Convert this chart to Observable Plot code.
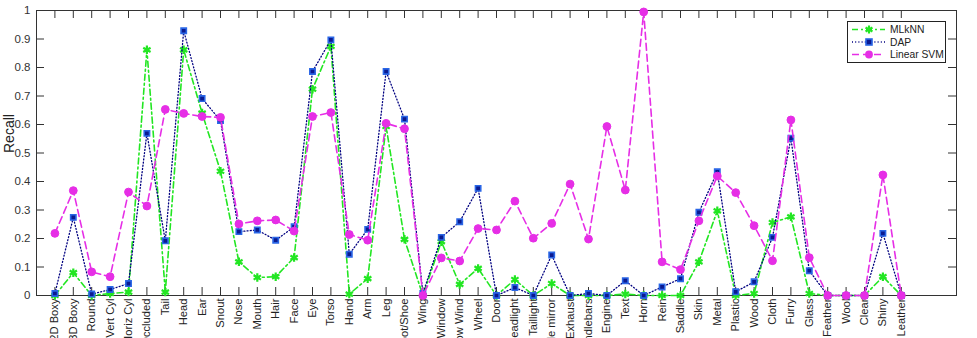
<!DOCTYPE html>
<html>
<head>
<meta charset="utf-8">
<script src="https://cdn.jsdelivr.net/npm/d3@7"></script>
<script src="https://cdn.jsdelivr.net/npm/@observablehq/plot@0.6"></script>
<style>
  html, body { margin: 0; padding: 0; background: #fff; overflow: hidden; }
  #wrap { position: relative; width: 977px; height: 338px; font-family: "Liberation Sans", Arial, sans-serif; }
  #legend { position: absolute; left: 847px; top: 21px; width: 97px; height: 40px; border: 1px solid #222; background: #fff; }
  #legend svg { display: block; }
</style>
</head>
<body>
<div id="wrap"></div>
<script>
const categories = ["2D Boxy","3D Boxy","Round","Vert Cyl","Horiz Cyl","Occluded","Tail","Head","Ear","Snout","Nose","Mouth","Hair","Face","Eye","Torso","Hand","Arm","Leg","Foot/Shoe","Wing","Window","Row Wind","Wheel","Door","Headlight","Taillight","Side mirror","Exhaust","Handlebars","Engine","Text","Horn","Rein","Saddle","Skin","Metal","Plastic","Wood","Cloth","Furry","Glass","Feather","Wool","Clear","Shiny","Leather"];
const mlknn = [0,0.08,0,0.007,0.012,0.862,0.012,0.862,0.64,0.436,0.118,0.063,0.066,0.133,0.724,0.874,0.005,0.059,0.593,0.197,0,0.189,0.039,0.095,0,0.056,0,0.042,0,0,0,0.005,0,0,0,0.118,0.297,0,0.007,0.256,0.276,0.007,0,0,0,0.066,0];
const dap = [0.007,0.274,0.005,0.021,0.042,0.569,0.192,0.929,0.691,0.614,0.224,0.230,0.194,0.241,0.786,0.897,0.145,0.232,0.786,0.619,0.007,0.204,0.259,0.376,0,0.028,0,0.142,0,0.007,0,0.052,0,0.030,0.059,0.292,0.434,0.013,0.048,0.204,0.552,0.087,0,0,0,0.218,0];
const svm = [0.218,0.368,0.083,0.066,0.363,0.314,0.653,0.639,0.628,0.625,0.251,0.262,0.265,0.226,0.628,0.642,0.214,0.194,0.604,0.585,0,0.132,0.121,0.235,0.230,0.331,0.201,0.253,0.391,0.198,0.593,0.370,0.995,0.118,0.091,0.262,0.419,0.361,0.245,0.122,0.616,0.133,0,0,0,0.423,0];
const yTicks = [0,0.1,0.2,0.3,0.4,0.5,0.6,0.7,0.8,0.9,1];
const seriesNames = ["MLkNN","DAP","Linear SVM"];
const yLabel = "Recall";

const W = 977, H = 338, mL = 36, mR = 21, mT = 10, mB = 43;
const innerW = W - mL - mR, innerH = H - mT - mB, tickLen = 8;
const xIdx = categories.map((_, i) => i + 1);
const rows = (vals) => vals.map((v, i) => ({x: i + 1, y: v}));
const C = {ml: "#22e622", dapLine: "#000080", dapFill: "#0a1a90", dapEdge: "#2a66e6", svm: "#e62ee6"};

const chart = Plot.plot({
  width: W, height: H,
  marginLeft: mL, marginRight: mR, marginTop: mT, marginBottom: mB,
  style: {fontFamily: "Liberation Sans, Arial, sans-serif", background: "#fff", color: "#222"},
  x: {type: "linear", domain: [0, 50]},
  y: {domain: [0, 1]},
  marks: [
    Plot.axisY({ticks: yTicks, tickSize: 0, tickPadding: 6, fontSize: 11.5, tickFormat: d => String(+d.toFixed(1)),
      label: null, fill: "#333"}),
    Plot.text([yLabel], {text: d => d, frameAnchor: "left", dx: -27, rotate: -90, fontSize: 14, fill: "#222"}),
    Plot.axisX({ticks: xIdx, tickSize: 0, tickPadding: 3, tickRotate: -90, fontSize: 11.2,
      tickFormat: d => categories[d - 1], label: null, fill: "#222"}),
    Plot.ruleY(yTicks, {y: d => d, insetRight: innerW - tickLen, stroke: "#333"}),
    Plot.ruleY(yTicks, {y: d => d, insetLeft: innerW - tickLen, stroke: "#333"}),
    Plot.ruleX(xIdx, {x: d => d, insetTop: innerH - tickLen, stroke: "#333"}),
    Plot.ruleX(xIdx, {x: d => d, insetBottom: innerH - tickLen, stroke: "#333"}),
    Plot.frame({stroke: "#333"}),
    Plot.line(rows(mlknn), {x: "x", y: "y", stroke: C.ml, strokeWidth: 1.6, strokeDasharray: "6,3,2,3"}),
    Plot.dot(rows(mlknn), {x: "x", y: "y", symbol: "asterisk", r: 4, stroke: C.ml, strokeWidth: 2.2}),
    Plot.line(rows(dap), {x: "x", y: "y", stroke: C.dapLine, strokeWidth: 1.3, strokeDasharray: "1,2.2"}),
    Plot.dot(rows(dap), {x: "x", y: "y", symbol: "square", r: 3, fill: C.dapFill, stroke: C.dapEdge, strokeWidth: 1.6}),
    Plot.line(rows(svm), {x: "x", y: "y", stroke: C.svm, strokeWidth: 1.6, strokeDasharray: "7,4"}),
    Plot.dot(rows(svm), {x: "x", y: "y", r: 3.9, fill: C.svm, stroke: C.svm, strokeWidth: 1})
  ]
});
const wrap = document.getElementById("wrap");
wrap.appendChild(chart);

// legend
const leg = document.createElement("div");
leg.id = "legend";
const ns = "http://www.w3.org/2000/svg";
const svg = document.createElementNS(ns, "svg");
svg.setAttribute("width", 97); svg.setAttribute("height", 40);
const styles = [
  {stroke: C.ml, dash: "6,3,2,3", w: 1.6},
  {stroke: C.dapLine, dash: "1,2.2", w: 1.3},
  {stroke: C.svm, dash: "7,4", w: 1.6}
];
seriesNames.forEach((name, i) => {
  const y = 7.5 + i * 12.5;
  const ln = document.createElementNS(ns, "line");
  ln.setAttribute("x1", 4); ln.setAttribute("x2", 37); ln.setAttribute("y1", y); ln.setAttribute("y2", y);
  ln.setAttribute("stroke", styles[i].stroke); ln.setAttribute("stroke-width", styles[i].w);
  ln.setAttribute("stroke-dasharray", styles[i].dash);
  svg.appendChild(ln);
  let mk;
  const cx = 21;
  if (i === 0) {
    mk = document.createElementNS(ns, "path");
    const r = 4;
    let d = "";
    for (let a = 0; a < 3; a++) {
      const t = a * Math.PI / 3 + Math.PI / 2;
      d += `M${cx + r * Math.cos(t)},${y + r * Math.sin(t)}L${cx - r * Math.cos(t)},${y - r * Math.sin(t)}`;
    }
    mk.setAttribute("d", d); mk.setAttribute("stroke", C.ml); mk.setAttribute("stroke-width", 2.2);
  } else if (i === 1) {
    mk = document.createElementNS(ns, "rect");
    mk.setAttribute("x", cx - 3); mk.setAttribute("y", y - 3); mk.setAttribute("width", 6); mk.setAttribute("height", 6);
    mk.setAttribute("fill", C.dapFill); mk.setAttribute("stroke", C.dapEdge); mk.setAttribute("stroke-width", 1.6);
  } else {
    mk = document.createElementNS(ns, "circle");
    mk.setAttribute("cx", cx); mk.setAttribute("cy", y); mk.setAttribute("r", 3.9); mk.setAttribute("fill", C.svm);
  }
  svg.appendChild(mk);
  const tx = document.createElementNS(ns, "text");
  tx.setAttribute("x", 42); tx.setAttribute("y", y + 3.7);
  tx.setAttribute("font-size", "10.3"); tx.setAttribute("fill", "#222");
  tx.setAttribute("font-family", "Liberation Sans, Arial, sans-serif");
  tx.textContent = name;
  svg.appendChild(tx);
});
leg.appendChild(svg);
wrap.appendChild(leg);
</script>
</body>
</html>
